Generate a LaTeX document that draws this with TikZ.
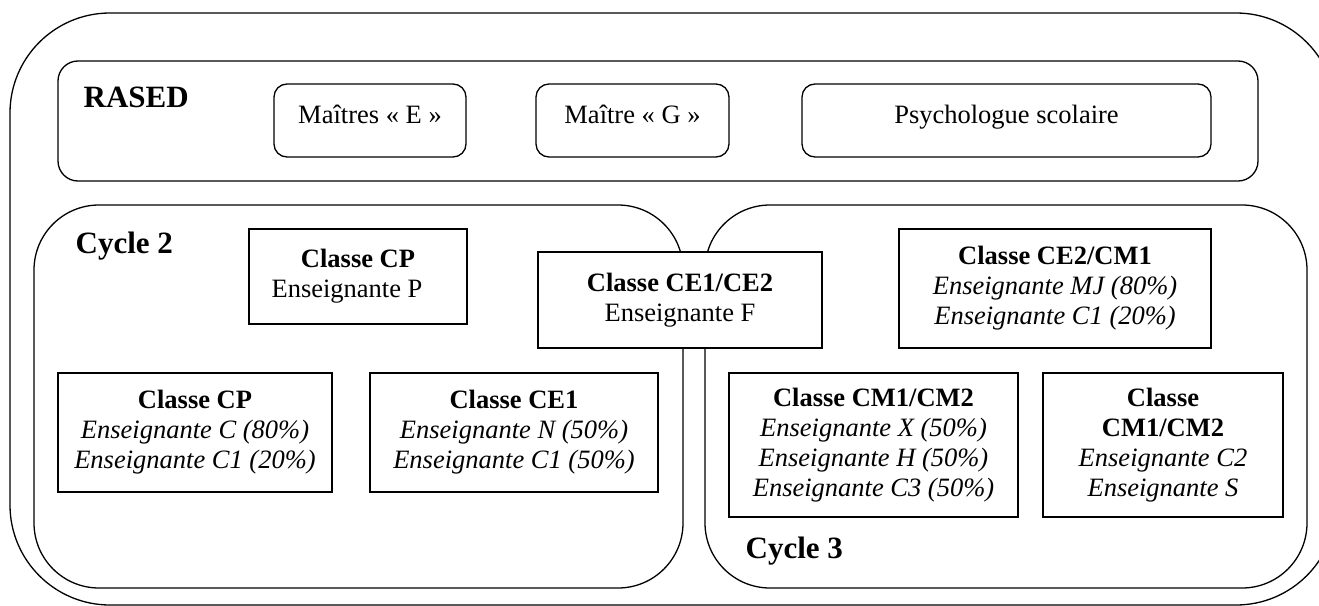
\documentclass[tikz,border=0pt]{standalone}
\usepackage{fontspec}
\setmainfont{Liberation Serif}
\newcommand{\bxfont}{\fontsize{26.5}{30}\selectfont}
\newcommand{\hdfont}{\fontsize{31}{36}\selectfont\bfseries}
\begin{document}
\begin{tikzpicture}[x=1pt,y=-1pt,line width=1.3pt,
  container/.style={draw, rounded corners=#1, inner sep=0pt},
  classbox/.style={draw, fill=white, inner sep=0pt, align=center, font=\bxfont},
  rasedbox/.style={draw, rounded corners=13pt, inner sep=0pt, align=center, font=\bxfont,
    minimum height=73pt, text height=17pt, text depth=12pt},
  heading/.style={anchor=base west, inner sep=0pt, font=\hdfont}]
\useasboundingbox (0,0) rectangle (1319,605);
\clip (0,0) rectangle (1319,605);
% outer container
\node[container=100pt, minimum width=1326pt, minimum height=592pt] (outer) at (673,309) {};
% RASED
\node[container=20pt, minimum width=1200pt, minimum height=120pt] (rased) at (658,121) {};
\node[heading] (rasedlbl) at (83,107) {RASED};
\node[rasedbox, minimum width=192pt] (me) at (370,120.5) {Maîtres «~E~»};
\node[rasedbox, minimum width=193pt] (mg) at (632.5,120.5) {Maître «~G~»};
\node[rasedbox, minimum width=409pt] (psy) at (1006.5,120.5) {Psychologue scolaire};
% cycles
\node[container=65pt, minimum width=649pt, minimum height=383pt] (cyc2) at (358.5,396.5) {};
\node[container=65pt, minimum width=602pt, minimum height=383pt] (cyc3) at (1006,396.5) {};
\node[heading] (cyc2lbl) at (75,253) {Cycle 2};
\node[heading] (cyc3lbl) at (745,558) {Cycle 3};
% classes
\node[classbox, minimum width=218pt, minimum height=95pt] (cp1) at (358,276.5)
  {\textbf{Classe CP}\\Enseignante P\hspace*{22pt}};
\node[classbox, minimum width=284pt, minimum height=96pt] (cece) at (680,300)
  {\textbf{Classe CE1/CE2}\\Enseignante F};
\node[classbox, minimum width=312pt, minimum height=119pt] (ce2cm1) at (1055,288.5)
  {\textbf{Classe CE2/CM1}\\\textit{Enseignante MJ (80\%)}\\\textit{Enseignante C1 (20\%)}};
\node[classbox, minimum width=274pt, minimum height=119pt] (cp2) at (195,432.5)
  {\textbf{Classe CP}\\\textit{Enseignante C (80\%)}\\\textit{Enseignante C1 (20\%)}};
\node[classbox, minimum width=288pt, minimum height=119pt] (ce1) at (514,432.5)
  {\textbf{Classe CE1}\\\textit{Enseignante N (50\%)}\\\textit{Enseignante C1 (50\%)}};
\node[classbox, minimum width=289pt, minimum height=144pt] (cm1) at (873.5,445)
  {\textbf{Classe CM1/CM2}\\\textit{Enseignante X (50\%)}\\\textit{Enseignante H (50\%)}\\\textit{Enseignante C3 (50\%)}};
\node[classbox, minimum width=240pt, minimum height=144pt] (cm2) at (1163,445)
  {\textbf{Classe}\\\textbf{CM1/CM2}\\\textit{Enseignante C2}\\\textit{Enseignante S}};
\end{tikzpicture}
\end{document}
